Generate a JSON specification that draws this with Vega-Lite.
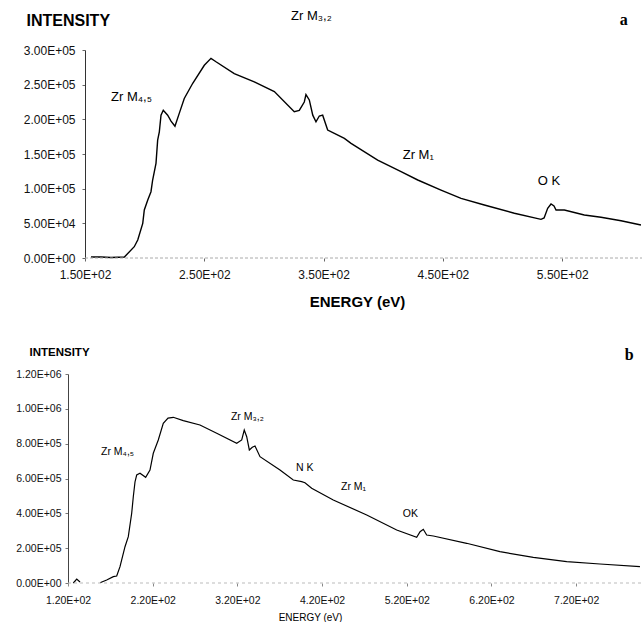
{
  "$schema": "https://vega.github.io/schema/vega-lite/v6.json",
  "padding": {"left": 15, "top": 10, "right": 0, "bottom": 0},
  "config": {"view": {"stroke": null}, "font": "Liberation Sans", "axis": {"labelOverlap": false, "labelBound": false, "labelFlush": false}},
  "spacing": 37,
  "datasets": {
    "specA": [
      {"e": 155, "i": 1500}, {"e": 163.4, "i": 1400}, {"e": 171.8, "i": 700}, {"e": 183, "i": 1400},
      {"e": 191.3, "i": 16300}, {"e": 194.2, "i": 26000}, {"e": 198.4, "i": 50000}, {"e": 199.7, "i": 69200},
      {"e": 202.6, "i": 83600}, {"e": 205.3, "i": 95600}, {"e": 206.7, "i": 112500}, {"e": 209.5, "i": 136600},
      {"e": 210.9, "i": 170000}, {"e": 212.3, "i": 182000}, {"e": 213.7, "i": 206000}, {"e": 215.6, "i": 213000},
      {"e": 219.3, "i": 206000}, {"e": 222.1, "i": 197500}, {"e": 225.4, "i": 190000}, {"e": 229, "i": 208600},
      {"e": 233.2, "i": 230000}, {"e": 240.3, "i": 252000}, {"e": 250, "i": 278000}, {"e": 255.6, "i": 288000},
      {"e": 259.8, "i": 283000}, {"e": 275.1, "i": 266000}, {"e": 291.9, "i": 254000}, {"e": 308.7, "i": 240000},
      {"e": 325.4, "i": 211000}, {"e": 329.6, "i": 213000}, {"e": 333.8, "i": 225000}, {"e": 335.2, "i": 235800},
      {"e": 338, "i": 228000}, {"e": 340.9, "i": 206000}, {"e": 343.6, "i": 196500}, {"e": 346.4, "i": 204800},
      {"e": 349.2, "i": 206000}, {"e": 353.4, "i": 184600}, {"e": 359, "i": 179800}, {"e": 367.4, "i": 172600},
      {"e": 373, "i": 165400}, {"e": 395.3, "i": 141300}, {"e": 414.9, "i": 124400}, {"e": 428.9, "i": 112500},
      {"e": 448.4, "i": 98000}, {"e": 465.2, "i": 86100}, {"e": 484.7, "i": 76400}, {"e": 509.9, "i": 64500},
      {"e": 532.2, "i": 55800}, {"e": 534.8, "i": 57700}, {"e": 537.8, "i": 71700}, {"e": 540.6, "i": 77900},
      {"e": 543.1, "i": 75000}, {"e": 544.8, "i": 69200}, {"e": 551.8, "i": 69200}, {"e": 568.5, "i": 62000},
      {"e": 582.5, "i": 58700}, {"e": 599.3, "i": 53800}, {"e": 616, "i": 47600}
    ],
    "labelsA": [
      {"e": 171.8, "i": 226400, "t": "Zr M₄,₅"},
      {"e": 322.7, "i": 343200, "t": "Zr M₃,₂"},
      {"e": 416.3, "i": 142800, "t": "Zr M₁"},
      {"e": 529.5, "i": 105300, "t": "O K"}
    ],
    "specB": [
      {"e": 126.3, "i": 0, "s": 1}, {"e": 130.3, "i": 23000, "s": 1}, {"e": 134.2, "i": 5700, "s": 1},
      {"e": 157.8, "i": 1700, "s": 2}, {"e": 165.7, "i": 17200, "s": 2}, {"e": 173.5, "i": 36200, "s": 2},
      {"e": 177.5, "i": 40200, "s": 2}, {"e": 181.4, "i": 93600, "s": 2}, {"e": 187.3, "i": 208400, "s": 2},
      {"e": 191.2, "i": 265900, "s": 2}, {"e": 195.2, "i": 400200, "s": 2}, {"e": 197.1, "i": 495500, "s": 2},
      {"e": 199.1, "i": 580000, "s": 2}, {"e": 201.1, "i": 620100, "s": 2}, {"e": 205, "i": 629900, "s": 2},
      {"e": 211.7, "i": 606900, "s": 2}, {"e": 216.8, "i": 648800, "s": 2}, {"e": 220.7, "i": 744800, "s": 2},
      {"e": 226.6, "i": 821100, "s": 2}, {"e": 232.5, "i": 917000, "s": 2}, {"e": 238.1, "i": 947000, "s": 2},
      {"e": 244.3, "i": 951400, "s": 2}, {"e": 256.1, "i": 932000, "s": 2}, {"e": 275.8, "i": 907200, "s": 2},
      {"e": 295.6, "i": 859600, "s": 2}, {"e": 319.2, "i": 802200, "s": 2}, {"e": 325.1, "i": 821100, "s": 2},
      {"e": 328.1, "i": 878500, "s": 2}, {"e": 331, "i": 840100, "s": 2}, {"e": 334.1, "i": 763700, "s": 2},
      {"e": 337.6, "i": 779200, "s": 2}, {"e": 340.8, "i": 786700, "s": 2}, {"e": 346.7, "i": 725200, "s": 2},
      {"e": 370.3, "i": 648800, "s": 2}, {"e": 386, "i": 591400, "s": 2}, {"e": 395.9, "i": 581700, "s": 2},
      {"e": 399.8, "i": 575900, "s": 2}, {"e": 407.7, "i": 543800, "s": 2}, {"e": 433.2, "i": 476600, "s": 2},
      {"e": 472.7, "i": 390500, "s": 2}, {"e": 508.1, "i": 304300, "s": 2}, {"e": 531.7, "i": 262400, "s": 2},
      {"e": 535.7, "i": 294600, "s": 2}, {"e": 539.5, "i": 308300, "s": 2}, {"e": 543.5, "i": 275600, "s": 2},
      {"e": 551.4, "i": 269900, "s": 2}, {"e": 590.7, "i": 228000, "s": 2}, {"e": 630, "i": 179700, "s": 2},
      {"e": 669.4, "i": 147600, "s": 2}, {"e": 708.8, "i": 122300, "s": 2}, {"e": 748.1, "i": 109100, "s": 2},
      {"e": 795.3, "i": 93600, "s": 2}
    ],
    "labelsB": [
      {"e": 159, "i": 735000, "t": "Zr M₄,₅"},
      {"e": 312.4, "i": 936000, "t": "Zr M₃,₂"},
      {"e": 389.2, "i": 643100, "t": "N K"},
      {"e": 442.3, "i": 534000, "t": "Zr M₁"},
      {"e": 515.2, "i": 379000, "t": "OK"}
    ]
  },
  "vconcat": [
    {
      "width": 575,
      "height": 208,
      "layer": [
        {
          "data": {"name": "specA"},
          "mark": {"type": "line", "color": "#000", "strokeWidth": 1.4},
          "encoding": {
            "x": {
              "field": "e", "type": "quantitative",
              "scale": {"domain": [135.75, 617.7], "nice": false, "zero": false},
              "axis": {
                "values": [150, 250, 350, 450, 550],
                "labelExpr": "replace(replace(format(datum.value, '.2e'), 'e+', 'E+0'), 'E+0-', 'E-0')",
                "labelOverlap": false,
                "domain": false, "grid": false,
                "tickSize": 3, "tickColor": "#666", "labelPadding": 8,
                "labelFontSize": 12, "labelColor": "#111", "labelFont": "Liberation Sans",
                "title": "ENERGY (eV)", "titleFontSize": 15, "titleFontWeight": "bold", "titleColor": "#000",
                "titleX": 289, "titleY": 48, "titleAlign": "center", "titleBaseline": "alphabetic"
              }
            },
            "y": {
              "field": "i", "type": "quantitative",
              "scale": {"domain": [0, 300000], "nice": false},
              "axis": {
                "values": [0, 50000, 100000, 150000, 200000, 250000, 300000],
                "tickCount": 7,
                "labelExpr": "replace(replace(format(datum.value, '.2e'), 'e+', 'E+0'), 'E+0-', 'E-0')",
                "labelOverlap": false,
                "offset": -17, "grid": false,
                "domainColor": "#333", "tickColor": "#666", "tickSize": 3, "labelPadding": 7,
                "labelFontSize": 12, "labelColor": "#111",
                "title": "INTENSITY", "titleAngle": 0, "titleFontSize": 16, "titleFontWeight": "bold", "titleColor": "#000",
                "titleX": -59, "titleY": -25, "titleAlign": "left", "titleBaseline": "alphabetic"
              }
            }
          }
        },
        {
          "data": {"values": [{"p": "a"}]},
          "mark": {"type": "rule", "color": "#aaa", "strokeDash": [3, 2], "strokeWidth": 1},
          "encoding": {
            "x": {"datum": 150, "type": "quantitative"},
            "x2": {"datum": 617.7},
            "y": {"datum": 0, "type": "quantitative"}
          }
        },
        {
          "data": {"name": "labelsA"},
          "mark": {"type": "text", "align": "left", "baseline": "alphabetic", "fontSize": 13, "color": "#000"},
          "encoding": {
            "x": {"field": "e", "type": "quantitative"},
            "y": {"field": "i", "type": "quantitative"},
            "text": {"field": "t"}
          }
        },
        {
          "data": {"values": [{"p": "a"}]},
          "mark": {"type": "text", "align": "right", "baseline": "alphabetic", "font": "Liberation Serif", "fontSize": 16, "fontWeight": "bold", "color": "#000"},
          "encoding": {
            "x": {"datum": 605, "type": "quantitative"},
            "y": {"datum": 336000, "type": "quantitative"},
            "text": {"field": "p"}
          }
        }
      ]
    },
    {
      "width": 575,
      "height": 209,
      "layer": [
        {
          "data": {"name": "specB"},
          "mark": {"type": "line", "color": "#000", "strokeWidth": 1.2},
          "encoding": {
            "detail": {"field": "s"},
            "x": {
              "field": "e", "type": "quantitative",
              "scale": {"domain": [120, 798.9], "nice": false, "zero": false},
              "axis": {
                "values": [120, 220, 320, 420, 520, 620, 720],
                "labelExpr": "replace(replace(format(datum.value, '.2e'), 'e+', 'E+0'), 'E+0-', 'E-0')",
                "labelOverlap": false,
                "domain": false, "grid": false,
                "tickSize": 3, "tickColor": "#888", "labelPadding": 9,
                "labelFontSize": 10.5, "labelColor": "#111",
                "title": "ENERGY (eV)", "titleFontSize": 10, "titleFontWeight": "normal", "titleColor": "#000",
                "titleX": 242, "titleY": 37, "titleAlign": "center", "titleBaseline": "alphabetic"
              }
            },
            "y": {
              "field": "i", "type": "quantitative",
              "scale": {"domain": [0, 1200000], "nice": false},
              "axis": {
                "values": [0, 200000, 400000, 600000, 800000, 1000000, 1200000],
                "tickCount": 7,
                "labelExpr": "replace(replace(format(datum.value, '.2e'), 'e+', 'E+0'), 'E+0-', 'E-0')",
                "labelOverlap": false,
                "grid": false,
                "domainColor": "#444", "tickColor": "#777", "tickSize": 3, "labelPadding": 4,
                "labelFontSize": 10.5, "labelColor": "#111",
                "title": "INTENSITY", "titleAngle": 0, "titleFontSize": 11.5, "titleFontWeight": "bold", "titleColor": "#000",
                "titleX": -39, "titleY": -19, "titleAlign": "left", "titleBaseline": "alphabetic"
              }
            }
          }
        },
        {
          "data": {"values": [{"p": "b"}]},
          "mark": {"type": "rule", "color": "#bbb", "strokeDash": [3, 3], "strokeWidth": 1},
          "encoding": {
            "x": {"datum": 120, "type": "quantitative"},
            "x2": {"datum": 798.9},
            "y": {"datum": 0, "type": "quantitative"}
          }
        },
        {
          "data": {"name": "labelsB"},
          "mark": {"type": "text", "align": "left", "baseline": "alphabetic", "fontSize": 10.5, "color": "#000"},
          "encoding": {
            "x": {"field": "e", "type": "quantitative"},
            "y": {"field": "i", "type": "quantitative"},
            "text": {"field": "t"}
          }
        },
        {
          "data": {"values": [{"p": "b"}]},
          "mark": {"type": "text", "align": "right", "baseline": "alphabetic", "font": "Liberation Serif", "fontSize": 16, "fontWeight": "bold", "color": "#000"},
          "encoding": {
            "x": {"datum": 788, "type": "quantitative"},
            "y": {"datum": 1280000, "type": "quantitative"},
            "text": {"field": "p"}
          }
        }
      ]
    }
  ]
}
